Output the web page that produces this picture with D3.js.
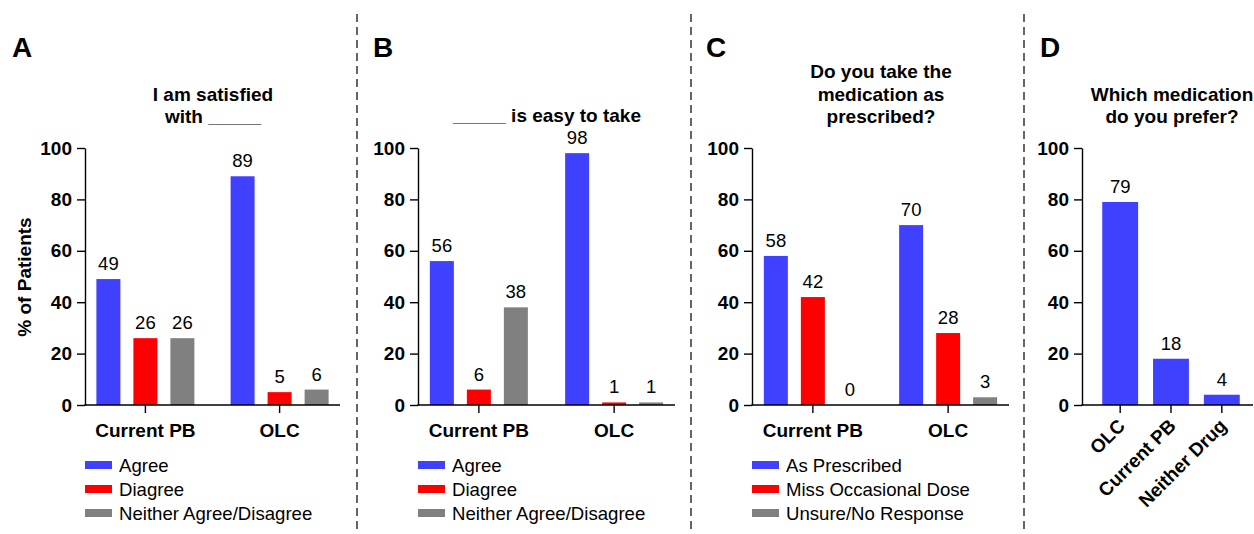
<!DOCTYPE html>
<html>
<head>
<meta charset="utf-8">
<script src="https://cdn.jsdelivr.net/npm/d3@7"></script>
<style>
  html, body { margin: 0; padding: 0; background: #fff; }
  svg { display: block; font-family: "Liberation Sans", Arial, Helvetica, sans-serif; }
</style>
</head>
<body>
<svg id="chart" width="1254" height="534"></svg>
<script>
// ---------- data ----------
const groups = ["Current PB", "OLC"];
const yTicks = [0, 20, 40, 60, 80, 100];

const titleA = ["I am satisfied", "with _____"];
const seriesA = ["Agree", "Diagree", "Neither Agree/Disagree"];
const valuesA = [[49, 26, 26], [89, 5, 6]];

const titleB = ["_____ is easy to take"];
const seriesB = ["Agree", "Diagree", "Neither Agree/Disagree"];
const valuesB = [[56, 6, 38], [98, 1, 1]];

const titleC = ["Do you take the", "medication as", "prescribed?"];
const seriesC = ["As Prescribed", "Miss Occasional Dose", "Unsure/No Response"];
const valuesC = [[58, 42, 0], [70, 28, 3]];

const titleD = ["Which medication", "do you prefer?"];
const categoriesD = ["OLC", "Current PB", "Neither Drug"];
const valuesD = [79, 18, 4];

const yLabel = "% of Patients";
const colors = ["#4040ff", "#ff0000", "#808080"];

// ---------- drawing ----------
const svg = d3.select("#chart");
const y = d3.scaleLinear().domain([0, 100]).range([405, 148]);

function yAxis(g, x0) {
  const ax = g.append("g").attr("transform", `translate(${x0},0)`)
    .call(d3.axisLeft(y).tickValues(yTicks).tickSize(8).tickPadding(5).tickSizeOuter(0));
  ax.select(".domain").attr("stroke", "#000").attr("stroke-width", 1.4);
  ax.selectAll(".tick line").attr("stroke", "#000").attr("stroke-width", 1.4);
  ax.selectAll(".tick text").attr("font-size", 19).attr("font-weight", "bold")
    .attr("font-family", "'Liberation Sans', Arial, sans-serif").attr("fill", "#000");
}

function xLine(g, x0, x1) {
  g.append("line").attr("x1", x0 - 0.7).attr("x2", x1).attr("y1", y(0)).attr("y2", y(0))
    .attr("stroke", "#000").attr("stroke-width", 1.4);
}

function title(g, cx, lines, baselines) {
  lines.forEach((t, i) => {
    g.append("text").attr("x", cx).attr("y", baselines[i]).attr("text-anchor", "middle")
      .attr("font-size", 19).attr("font-weight", "bold").text(t);
  });
}

function letter(g, x, t) {
  g.append("text").attr("x", x).attr("y", 57).attr("font-size", 28)
    .attr("font-weight", "bold").text(t);
}

function groupedPanel(cfg) {
  const g = svg.append("g");
  const x0 = d3.scalePoint().domain(groups).range([cfg.x0, cfg.x1]).padding(0.45);
  const x1 = d3.scaleBand().domain(cfg.series).range([-49, 49]).paddingInner(13 / 37);

  groups.forEach((grp, gi) => {
    const gg = g.append("g").attr("transform", `translate(${x0(grp)},0)`);
    gg.selectAll("rect").data(cfg.values[gi]).join("rect")
      .attr("x", (d, i) => x1(cfg.series[i]))
      .attr("width", x1.bandwidth())
      .attr("y", d => y(d))
      .attr("height", d => y(0) - y(d))
      .attr("fill", (d, i) => colors[i]);
    gg.selectAll("text.val").data(cfg.values[gi]).join("text").attr("class", "val")
      .attr("x", (d, i) => x1(cfg.series[i]) + x1.bandwidth() / 2)
      .attr("y", d => y(d) - 9)
      .attr("text-anchor", "middle").attr("font-size", 18.5)
      .text(d => d);
  });

  xLine(g, cfg.x0, cfg.x1);
  groups.forEach(grp => {
    g.append("line").attr("x1", x0(grp)).attr("x2", x0(grp)).attr("y1", y(0)).attr("y2", y(0) + 8)
      .attr("stroke", "#000").attr("stroke-width", 1.4);
    g.append("text").attr("x", x0(grp)).attr("y", 437).attr("text-anchor", "middle")
      .attr("font-size", 19).attr("font-weight", "bold").text(grp);
  });
  yAxis(g, cfg.x0);

  cfg.series.forEach((s, i) => {
    g.append("rect").attr("x", cfg.x0).attr("y", 461 + i * 24).attr("width", 27).attr("height", 8)
      .attr("fill", colors[i]);
    g.append("text").attr("x", cfg.x0 + 34).attr("y", 472 + i * 24).attr("font-size", 18.6)
      .text(s);
  });

  title(g, cfg.titleX, cfg.title, cfg.titleBaselines);
  letter(g, cfg.letterX, cfg.letter);
}

groupedPanel({ x0: 85, x1: 340, series: seriesA, values: valuesA, title: titleA,
  titleX: 213, titleBaselines: [101, 123], letter: "A", letterX: 12 });
groupedPanel({ x0: 418, x1: 675, series: seriesB, values: valuesB, title: titleB,
  titleX: 547, titleBaselines: [122], letter: "B", letterX: 373 });
groupedPanel({ x0: 752, x1: 1009, series: seriesC, values: valuesC, title: titleC,
  titleX: 881, titleBaselines: [78, 101, 123], letter: "C", letterX: 706 });

// Panel D
(function () {
  const g = svg.append("g");
  const ax0 = 1082, ax1 = 1253;
  const x = d3.scaleBand().domain(categoriesD).range([1087, 1255]).paddingInner(0.294).paddingOuter(0.3);
  g.selectAll("rect").data(valuesD).join("rect")
    .attr("x", (d, i) => x(categoriesD[i])).attr("width", x.bandwidth())
    .attr("y", d => y(d)).attr("height", d => y(0) - y(d)).attr("fill", colors[0]);
  g.selectAll("text.val").data(valuesD).join("text").attr("class", "val")
    .attr("x", (d, i) => x(categoriesD[i]) + x.bandwidth() / 2)
    .attr("y", d => y(d) - 9).attr("text-anchor", "middle").attr("font-size", 18.5).text(d => d);
  xLine(g, ax0, ax1);
  categoriesD.forEach(c => {
    const cx = x(c) + x.bandwidth() / 2;
    g.append("line").attr("x1", cx).attr("x2", cx).attr("y1", y(0)).attr("y2", y(0) + 8)
      .attr("stroke", "#000").attr("stroke-width", 1.4);
    g.append("text").attr("transform", `translate(${cx + 6},${y(0) + 22}) rotate(-45)`)
      .attr("text-anchor", "end").attr("font-size", 19).attr("font-weight", "bold").text(c);
  });
  yAxis(g, ax0);
  title(g, 1172, titleD, [101, 123]);
  letter(g, 1040, "D");
})();

// y label (panel A)
svg.append("text").attr("transform", "translate(31,277) rotate(-90)").attr("text-anchor", "middle")
  .attr("font-size", 19).attr("font-weight", "bold").text(yLabel);

// dashed dividers
[357, 691, 1024].forEach(xv => {
  svg.append("line").attr("x1", xv).attr("x2", xv).attr("y1", 14).attr("y2", 532)
    .attr("stroke", "#000").attr("stroke-width", 1.2).attr("stroke-dasharray", "8,5");
});
</script>
</body>
</html>
